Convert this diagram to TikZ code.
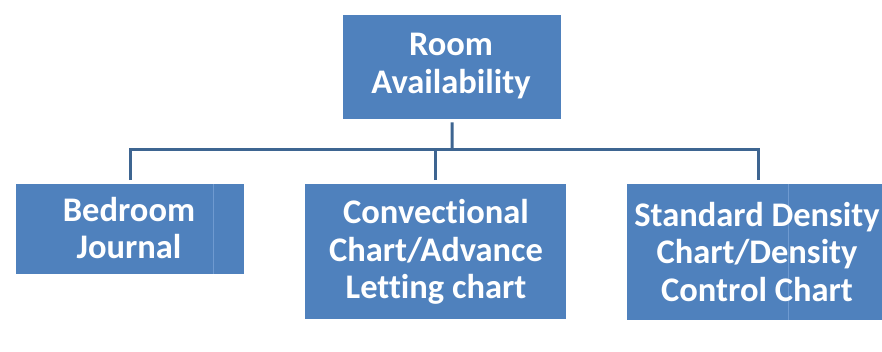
\documentclass[tikz,border=0pt]{standalone}
\usepackage{fontspec}
\setmainfont{Carlito}[Ligatures=NoCommon]
\definecolor{boxblue}{HTML}{4F81BD}
\definecolor{lineblue}{HTML}{3E6591}
\definecolor{seam}{HTML}{6F9AD0}
\tikzset{
  box/.style={fill=boxblue, draw=none, anchor=north west, inner sep=0pt},
  lbl/.style={text=white, font=\bfseries\fontsize{34.5}{37.5}\selectfont, align=center, inner sep=0pt},
  conn/.style={draw=lineblue, line width=3pt},
}
\begin{document}
\begin{tikzpicture}[x=1pt,y=-1pt]
\useasboundingbox (0,0) rectangle (882,351);
% boxes
\node[box, minimum width=218pt, minimum height=104pt] (root) at (343,15) {};
\node[box, minimum width=228pt, minimum height=90pt] (bed) at (16,184) {};
\node[box, minimum width=261pt, minimum height=135pt] (conv) at (305,184) {};
\node[box, minimum width=255pt, minimum height=136pt] (std) at (627,184) {};
% faint seams
\draw[seam, line width=0.6pt] (213,184) -- (213,274);
\draw[seam, line width=0.6pt] (788,184) -- (788,320);
% labels
\node[lbl] (roott) at (451,66) {Room\\Availability};
\node[lbl] (bedt) at (129,228) {Bedroom\\Journal};
\node[lbl] (convt) at (436,252) {Convectional\\Chart/Advance\\Letting chart};
\node[lbl] (stdt) at (757,252) {Standard Density\\Chart/Density\\Control Chart};
% connectors
\coordinate (bus) at (452,149);
\draw[conn, shorten <=3pt] (root.south) -- (bus);
\draw[conn, shorten <=4pt] (bed.north) |- (bus);
\draw[conn, shorten <=4pt] (conv.north) |- (bus);
\draw[conn, shorten >=4pt] (bus) -| ([xshift=3.5pt]std.north);
\end{tikzpicture}
\end{document}
